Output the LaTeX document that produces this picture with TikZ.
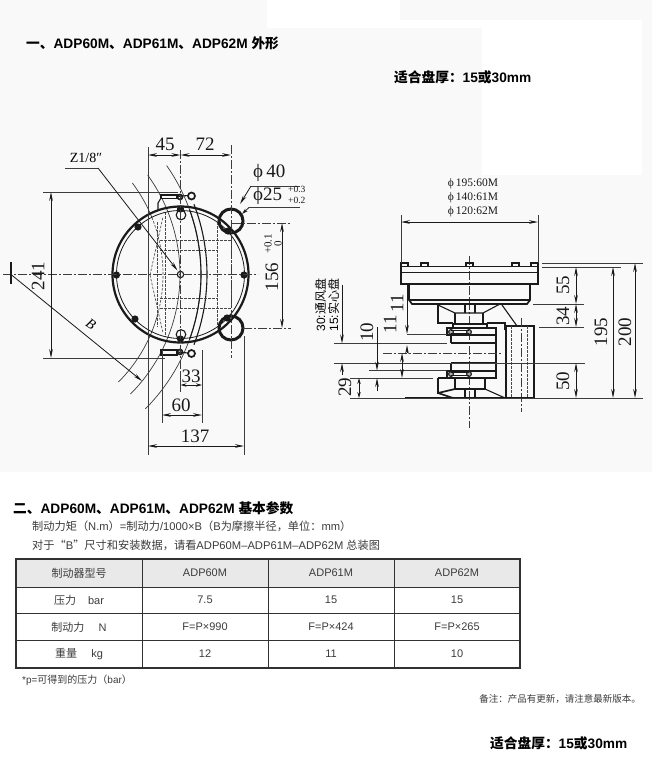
\documentclass[tikz,border=0pt]{standalone}
\usepackage{fontspec}
\usetikzlibrary{arrows.meta}
\setmainfont{Liberation Sans}
\newfontfamily\cjk{Noto Sans CJK SC}
\newfontfamily\drawfont{Liberation Serif}
\newcommand{\zh}[1]{{\cjk #1}}
\definecolor{pagegray}{HTML}{F9F9F9}
\definecolor{headgray}{HTML}{E9E9E9}
\definecolor{inkc}{HTML}{1A1A1A}
\tikzset{
  thinl/.style={line width=0.7pt,draw=inkc!85},
  med/.style={line width=1.1pt,draw=inkc},
  thick2/.style={line width=1.7pt,draw=inkc},
  heavy/.style={line width=3pt,draw=inkc},
  cen/.style={line width=0.65pt,draw=inkc!85,dash pattern=on 9pt off 2pt on 2pt off 2pt},
  hid/.style={line width=0.65pt,draw=inkc!80,dash pattern=on 2.5pt off 1.5pt},
  dimline/.style={line width=0.8pt,draw=inkc,{Stealth[length=9pt,width=3.6pt]}-{Stealth[length=9pt,width=3.6pt]}},
  dimshort/.style={line width=0.8pt,draw=inkc,{Stealth[length=6pt,width=3.4pt]}-{Stealth[length=6pt,width=3.4pt]}},
  onearrow/.style={line width=0.8pt,draw=inkc,-{Stealth[length=9pt,width=3.6pt]}},
  oneshort/.style={line width=0.8pt,draw=inkc,-{Stealth[length=6pt,width=3.4pt]}},
  dimtext/.style={font=\drawfont\fontsize{19}{19}\selectfont,text=inkc,inner sep=0pt},
  smalldim/.style={font=\drawfont\fontsize{11.5}{12}\selectfont,text=inkc,inner sep=0pt},
  tol/.style={font=\drawfont\fontsize{11}{10}\selectfont,text=inkc,inner sep=0pt,align=center},
  title/.style={font=\fontsize{13.7}{14}\selectfont\bfseries,anchor=west,inner sep=0pt,text=black},
  bodytxt/.style={font=\fontsize{11.2}{12}\selectfont,anchor=west,inner sep=0pt,text=inkc!85},
  cell/.style={font=\fontsize{11}{12}\selectfont,inner sep=0pt,text=inkc!85},
  bolt/.style={fill=inkc,draw=none}
}
\begin{document}
\begin{tikzpicture}[x=1pt,y=-1pt]
\useasboundingbox (0,0) rectangle (652,771);
% page background
\fill[white] (0,0) rectangle (652,771);
\fill[pagegray] (0,0) rectangle (652,472);
\fill[white] (267,0) rectangle (400,28);
\fill[white] (482,20) rectangle (642,175);
\fill[white] (400,20) rectangle (482,28);
% headings
\node[title] (h1) at (26,43) {\zh{一、}ADP60M\zh{、}ADP61M\zh{、}ADP62M \zh{外形}};
\node[title,font=\fontsize{13.7}{14}\selectfont\bfseries] (fit1) at (394,77) {\zh{适合盘厚：}15\zh{或}30mm};
% ===== left view =====
\coordinate (cc) at (180.5,274.5);
\coordinate (bc) at (11,274.5);
% radius arcs about B mark
\draw[thinl] plot[domain=-37:-22,samples=12] ({11+152*cos(\x)},{274.5+152*sin(\x)});
\draw[hid] plot[domain=-22:15,samples=24] ({11+152*cos(\x)},{274.5+152*sin(\x)});
\draw[thinl] plot[domain=15:45,samples=16] ({11+152*cos(\x)},{274.5+152*sin(\x)});
\draw[thinl] plot[domain=-36:45,samples=40] ({11+169*cos(\x)},{274.5+169*sin(\x)});
\draw[thinl] plot[domain=-35:45,samples=40] ({11+190*cos(\x)},{274.5+190*sin(\x)});
\draw[med] plot[domain=-21:21,samples=24] ({11+196*cos(\x)},{274.5+196*sin(\x)});
\draw[med] plot[domain=-20:20,samples=24] ({11+190*cos(\x)},{274.5+190*sin(\x)});
% hidden detail
\draw[hid] (160,240) -- (231,240) (160,250) -- (217,250) (160,298) -- (217,298) (160,308) -- (231,308);
\draw[hid] (217,222) -- (217,327) (231,240) -- (231,308) (165,212) -- (165,337) (157,222) -- (157,327);
\draw[hid] (150,275) -- (163,217) (150,275) -- (163,333);
% rings
\draw[heavy] (231,221) circle[radius=12pt];
\draw[heavy] (231,328) circle[radius=12pt];
% disc
\draw[line width=2.2pt,draw=inkc] (cc) circle[radius=68pt];
\draw[line width=0.8pt,draw=inkc] (cc) circle[radius=64pt];
% bolts
\foreach \p/\r in {116.5/275,244/275,138/227,228/231,135/319,227/318,180.5/209,180.5/339}{
  \fill[bolt] (\p,\r) circle[radius=3.6pt];}
\draw[med] (181,215) circle[radius=4.8pt];
\draw[med] (181,334.5) circle[radius=4.8pt];
\draw[med] (cc) circle[radius=3.2pt];
% clamps
\draw[thick2] (161,195) rectangle (177,198.5);
\draw[thick2] (180,197) circle[radius=2.5pt];
\draw[med] (177,196.5) -- (188,195.5);
\draw[thick2] (191.5,196) circle[radius=3.5pt];
\draw[med] (161,198) -- (158,203) -- (158,210);
\draw[thick2] (161,350) rectangle (177,355);
\draw[thick2] (180,352) circle[radius=2.5pt];
\draw[med] (177,352) -- (188,353);
\draw[thick2] (191.5,353.5) circle[radius=3.5pt];
% centre lines
\draw[cen] (3,274.5) -- (258,274.5);
\draw[cen] (180.5,150) -- (180.5,375);
\draw[cen] (231,145) -- (231,358);
% extension lines
\draw[thinl] (148,147) -- (148,455);
\draw[thinl] (244,336) -- (244,455);
\draw[thinl] (162,350) -- (162,423);
\draw[thinl] (202,350) -- (202,423);
\draw[thinl] (180.5,372) -- (180.5,392);
\draw[thinl] (43,192) -- (178,192);
\draw[thinl] (43,358) -- (165,358);
\draw[cen] (232,223) -- (291,223);
\draw[cen] (243,328) -- (291,328);
% dimensions
\coordinate (d45a) at (148,155); \coordinate (d45b) at (180.5,155); \coordinate (d72b) at (231,155);
\draw[dimline] (d45a) -- (d45b);
\draw[dimline] (d45b) -- (d72b);
\node[dimtext] (t45) at (165,144) {45};
\node[dimtext] (t72) at (205,144) {72};
\coordinate (d137a) at (148,446); \coordinate (d137b) at (244,446);
\draw[dimline] (d137a) -- (d137b);
\node[dimtext] (t137) at (195,436) {137};
\coordinate (d60a) at (162,415); \coordinate (d60b) at (202,415);
\draw[dimline] (d60a) -- (d60b);
\node[dimtext] (t60) at (181,405) {60};
\coordinate (d33a) at (180.5,385); \coordinate (d33b) at (202,385);
\draw[dimshort] (d33a) -- (d33b);
\node[dimtext] (t33) at (191,376) {33};
\coordinate (d241a) at (51,192); \coordinate (d241b) at (51,358);
\draw[dimline] (d241a) -- (d241b);
\node[dimtext,rotate=90] (t241) at (38,276) {241};
\coordinate (d156a) at (282,223); \coordinate (d156b) at (282,328);
\draw[dimline] (d156a) -- (d156b);
\node[dimtext,rotate=90] (t156) at (272,277) {156};
\node[tol,rotate=90] (t156b) at (273,244) {+0.1\\0};
% B mark
\draw[med] (11,262) -- (11,284);
\coordinate (barc) at (142,381);
\draw[onearrow] (bc) -- (barc);
\node[font=\drawfont\itshape\fontsize{14}{14}\selectfont,rotate=-35,inner sep=0pt] (tB) at (91,324) {B};
% Z1/8 leader
\coordinate (z0) at (65,168); \coordinate (z1) at (98,168); \coordinate (z2) at (177.5,270.5);
\draw[thinl] (z0) -- (z1);
\draw[onearrow] (z1) -- (z2);
\node[font=\drawfont\fontsize{14}{14}\selectfont,inner sep=0pt] (tz) at (86,158) {Z1/8″};
% phi leaders
\coordinate (f40a) at (300,186); \coordinate (f40b) at (251,186); \coordinate (f40c) at (240,204);
\draw[thinl] (f40a) -- (f40b);
\draw[onearrow] (f40b) -- (f40c);
\coordinate (f25a) at (300,207.5); \coordinate (f25b) at (249,207.5); \coordinate (f25c) at (242,214);
\draw[thinl] (f25a) -- (f25b);
\draw[oneshort] (f25b) -- (f25c);
\node[dimtext,anchor=west] (t40) at (253,173) {ϕ\,40};
\node[dimtext,anchor=west] (t25) at (253,196) {ϕ25};
\node[tol,anchor=west,font=\drawfont\fontsize{9.5}{11}\selectfont] (t25b) at (288,195) {+0.3\\+0.2};
% ===== right view =====
\draw[cen] (469,256) -- (469,428);
% top plate
\draw[thick2] (401,266.5) rectangle (538,284);
\draw[med] (401,272.7) -- (538,272.7);
\foreach \a/\b in {401/408,421/428,466/473,512/519,531/538}{\draw[med] (\a,266) -- (\a,263) -- (\b,263) -- (\b,266);}
% body
\draw[thick2] (409,284) -- (409,300) -- (412,304) -- (527,304) -- (530,300) -- (530,284);
\draw[med] (409,300) -- (530,300);
% upper cone
\draw[med] (438,304) -- (438,323) -- (453,323);
\draw[med] (438,305) -- (455,313) -- (483,313) -- (500,304);
\draw[med] (465,304) -- (465,313) (475,304) -- (475,313);
\draw[med] (455,313) -- (455,324) (483,313) -- (483,324);
\draw[med] (502,305) -- (517,326);
\draw[med] (487,323) -- (505,323) -- (505,330);
\draw[thick2] (453,324) rectangle (487,328);
% block
\draw[thick2] (506,326) rectangle (534,398);
\draw[hid] (511,326) -- (511,398) (527,326) -- (527,398);
\draw[cen] (521,318) -- (521,412);
% upper piston
\draw[thick2] (447,328) rectangle (496,335);
\draw[thick2] (451,335) -- (451,343) (496,335) -- (496,363);
\draw[med] (451,343) -- (496,343);
% lower piston
\draw[thick2] (451,363) -- (451,371) (496,363) -- (496,371);
\draw[med] (451,363) -- (496,363);
\draw[thick2] (447,371) rectangle (496,378);
% bottom
\draw[thick2] (438,378) -- (438,393) -- (455,389) (455,378) -- (455,389) -- (485,389) -- (485,378);
\draw[med] (438,378) -- (455,378);
\draw[thick2] (438,393) -- (453,398);
\draw[med] (485,389) -- (505,398);
\draw[med] (465,389) -- (465,398) (475,389) -- (475,398);
% bolts
\foreach \q/\r in {451/332,469/332,451/374,469/374}{\draw[med,fill=inkc!35] (\q,\r) circle[radius=2.4pt];}
\draw[med] (451,330.5) -- (469,330.5) (451,333.5) -- (469,333.5) (451,372.5) -- (469,372.5) (451,375.5) -- (469,375.5);
% base and extensions
\draw[thick2] (405,398) -- (534,398);
\draw[thinl] (350,398) -- (643,398);
\draw[thinl] (401,215) -- (401,263);
\draw[thinl] (538,215) -- (538,263);
\draw[thinl] (542,263) -- (643,263);
\draw[thinl] (542,267) -- (621,267);
\draw[thinl] (533,304) -- (584,304);
\draw[thinl] (539,327) -- (584,327);
\draw[thinl] (334,363) -- (585,363);
\draw[thinl] (334,343.5) -- (447,343.5);
\draw[thinl] (369,370.7) -- (447,370.7);
\draw[thinl] (350,378) -- (433,378);
\draw[thinl] (407,334) -- (447,334);
\draw[cen] (383,353) -- (502,353);
% top dim
\coordinate (dta) at (401,222); \coordinate (dtb) at (538,222);
\draw[dimline] (dta) -- (dtb);
\node[smalldim] (p1) at (473,184) {ϕ\,195:60M};
\node[smalldim] (p2) at (473,198) {ϕ\,140:61M};
\node[smalldim] (p3) at (473,212) {ϕ\,120:62M};
% right dims
\coordinate (r1) at (576,267); \coordinate (r2) at (576,304); \coordinate (r3) at (576,327);
\coordinate (r4) at (576,363); \coordinate (r5) at (576,398);
\draw[dimline] (r1) -- (r2); \draw[dimline] (r2) -- (r3); \draw[dimline] (r4) -- (r5);
\coordinate (s1) at (613,267); \coordinate (s2) at (613,398);
\draw[dimline] (s1) -- (s2);
\coordinate (u1) at (635,263); \coordinate (u2) at (635,398);
\draw[dimline] (u1) -- (u2);
\node[dimtext,rotate=90] (t55) at (563,285) {55};
\node[dimtext,rotate=90] (t34) at (563,316) {34};
\node[dimtext,rotate=90] (t50) at (563,381) {50};
\node[dimtext,rotate=90] (t195) at (601,332) {195};
\node[dimtext,rotate=90] (t200) at (625,332) {200};
% left dims
\coordinate (a1) at (342,285); \coordinate (a2) at (342,343.5); \coordinate (a3) at (342,363); \coordinate (a4) at (342,375);
\draw[onearrow] (a1) -- (a2);
\draw[onearrow] (a4) -- (a3);
\node[font=\fontsize{12}{13}\selectfont,rotate=90,inner sep=0pt,align=left,text=black] (tv) at (327,305) {30:\zh{通风盘}\\15:\zh{实心盘}};
\coordinate (b1) at (377,327); \coordinate (b2) at (377,370.7); \coordinate (b3) at (377,391); \coordinate (b4) at (377,378);
\draw[onearrow] (b1) -- (b2);
\draw[onearrow] (b3) -- (b4);
\node[dimtext,rotate=90] (t10) at (367,332) {10};
\coordinate (c1) at (407,283); \coordinate (c2) at (407,334); \coordinate (c3) at (407,353); \coordinate (c4) at (407,345);
\draw[onearrow] (c1) -- (c2);
\draw[onearrow] (c3) -- (c4);
\coordinate (e1) at (402,353); \coordinate (e2) at (402,378);
\draw[dimline] (e1) -- (e2);
\node[dimtext,rotate=90] (t11a) at (397,303) {11};
\node[dimtext,rotate=90] (t11b) at (390,324) {11};
\coordinate (g1) at (359,378); \coordinate (g2) at (359,398);
\draw[dimshort] (g1) -- (g2);
\node[dimtext,rotate=90] (t29) at (345,387) {29};
% ===== section two =====
\node[title] (h2) at (13,508) {\zh{二、}ADP60M\zh{、}ADP61M\zh{、}ADP62M \zh{基本参数}};
\node[bodytxt] (l1) at (32,526) {\zh{制动力矩（}N.m\zh{）}=\zh{制动力}/1000×B\zh{（}B\zh{为摩擦半径，单位：}mm\zh{）}};
\node[bodytxt] (l2) at (32,545) {\zh{对于“}B\zh{”尺寸和安装数据，请看}ADP60M–ADP61M–ADP62M \zh{总装图}};
% table
\fill[headgray] (16,559) rectangle (520,587);
\draw[line width=0.8pt,draw=inkc!90] (16,587) -- (520,587) (16,613.5) -- (520,613.5) (16,640) -- (520,640);
\draw[line width=0.8pt,draw=inkc!90] (142,559) -- (142,668) (268,559) -- (268,668) (394,559) -- (394,668);
\draw[line width=1.5pt,draw=inkc!90] (16,559) rectangle (520,668);
\node[cell] (c11) at (79,573) {\zh{制动器型号}};
\node[cell] (c12) at (205,573) {ADP60M};
\node[cell] (c13) at (331,573) {ADP61M};
\node[cell] (c14) at (457,573) {ADP62M};
\node[cell] (c21) at (79,600) {\zh{压力}\hspace{1.1em}bar};
\node[cell] (c22) at (205,600) {7.5};
\node[cell] (c23) at (331,600) {15};
\node[cell] (c24) at (457,600) {15};
\node[cell] (c31) at (79,627) {\zh{制动力}\hspace{1.3em}N};
\node[cell] (c32) at (205,627) {F=P×990};
\node[cell] (c33) at (331,627) {F=P×424};
\node[cell] (c34) at (457,627) {F=P×265};
\node[cell] (c41) at (79,654) {\zh{重量}\hspace{1.3em}kg};
\node[cell] (c42) at (205,654) {12};
\node[cell] (c43) at (331,654) {11};
\node[cell] (c44) at (457,654) {10};
\node[bodytxt,font=\fontsize{10}{11}\selectfont] (fn) at (22,680) {*p=\zh{可得到的压力（}bar\zh{）}};
\node[bodytxt,font=\fontsize{9.5}{11}\selectfont,anchor=east] (note) at (641,699) {\zh{备注：产品有更新，请注意最新版本。}};
\node[title,font=\fontsize{13.7}{14}\selectfont\bfseries] (fit2) at (490,743) {\zh{适合盘厚：}15\zh{或}30mm};
\end{tikzpicture}
\end{document}
